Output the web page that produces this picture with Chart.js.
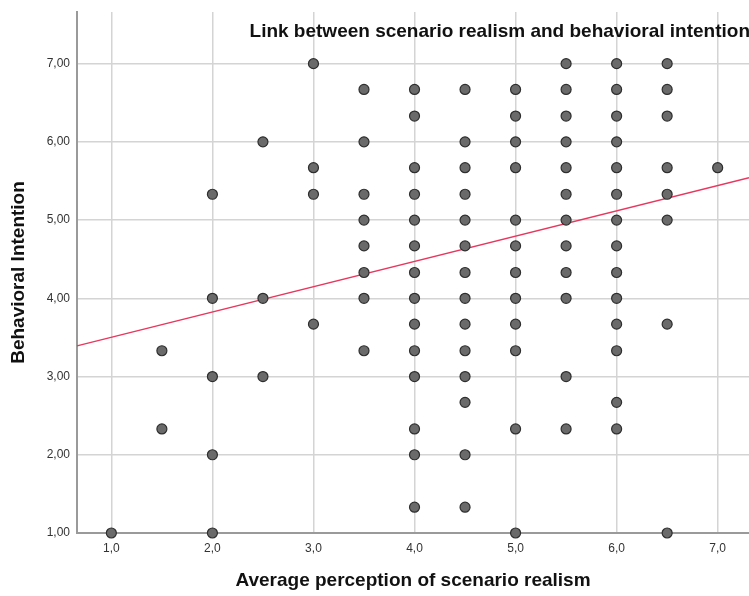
<!DOCTYPE html>
<html>
<head>
<meta charset="utf-8">
<script src="https://cdn.jsdelivr.net/npm/chart.js@4/dist/chart.umd.min.js"></script>
<style>
  html, body { margin: 0; padding: 0; background: #fff; }
  #wrap { width: 749px; height: 596px; }
</style>
</head>
<body>
<div id="wrap"><canvas id="scatter" width="749" height="596"></canvas></div>
<script>
// x values (average perception of scenario realism)
const realismLevels = [1.0, 1.5, 2.0, 2.5, 3.0, 3.5, 4.0, 4.5, 5.0, 5.5, 6.0, 6.5, 7.0];
// y values (behavioral intention) seen at each realism level
const intentionByLevel = [
  [1.00],
  [3.33, 2.33],
  [5.33, 4.00, 3.00, 2.00, 1.00],
  [6.00, 4.00, 3.00],
  [7.00, 5.67, 5.33, 3.67],
  [6.67, 6.00, 5.33, 5.00, 4.67, 4.33, 4.00, 3.33],
  [6.67, 6.33, 5.67, 5.33, 5.00, 4.67, 4.33, 4.00, 3.67, 3.33, 3.00, 2.33, 2.00, 1.33],
  [6.67, 6.00, 5.67, 5.33, 5.00, 4.67, 4.33, 4.00, 3.67, 3.33, 3.00, 2.67, 2.00, 1.33],
  [6.67, 6.33, 6.00, 5.67, 5.00, 4.67, 4.33, 4.00, 3.67, 3.33, 2.33, 1.00],
  [7.00, 6.67, 6.33, 6.00, 5.67, 5.33, 5.00, 4.67, 4.33, 4.00, 3.00, 2.33],
  [7.00, 6.67, 6.33, 6.00, 5.67, 5.33, 5.00, 4.67, 4.33, 4.00, 3.67, 3.33, 2.67, 2.33],
  [7.00, 6.67, 6.33, 5.67, 5.33, 5.00, 3.67, 1.00],
  [5.67]
];
// linear fit
const fitIntercept = 3.18;
const fitSlope = 0.323;

const xTicks = [1, 2, 3, 4, 5, 6, 7];
const yTicks = [1, 2, 3, 4, 5, 6, 7];
const xRange = [0.66, 7.31];
const yRange = [1.0, 7.66];

const titleText = 'Link between scenario realism and behavioral intention';

const points = [];
realismLevels.forEach(function (x, i) {
  intentionByLevel[i].forEach(function (y) { points.push({ x: x, y: y }); });
});

const fitLine = xRange.map(function (x) { return { x: x, y: fitIntercept + fitSlope * x }; });

const FONT = '"Liberation Sans", Arial, sans-serif';

const innerTitle = {
  id: 'innerTitle',
  afterDraw: function (chart) {
    const ctx = chart.ctx;
    ctx.save();
    ctx.font = 'bold 19px ' + FONT;
    ctx.fillStyle = '#111';
    ctx.textAlign = 'right';
    ctx.textBaseline = 'middle';
    ctx.fillText(titleText, chart.chartArea.right + 1, 32);
    ctx.restore();
  }
};

function fixTicks(list) {
  return function (scale) { scale.ticks = list.map(function (v) { return { value: v }; }); };
}

new Chart(document.getElementById('scatter'), {
  type: 'scatter',
  data: {
    datasets: [
      {
        data: points,
        backgroundColor: '#6a6a6a',
        borderColor: '#2e2e2e',
        borderWidth: 1.2,
        pointRadius: 5,
        pointHoverRadius: 5
      },
      {
        type: 'line',
        data: fitLine,
        borderColor: '#e8365d',
        borderWidth: 1.3,
        pointRadius: 0,
        fill: false
      }
    ]
  },
  plugins: [innerTitle],
  options: {
    responsive: false,
    animation: false,
    clip: false,
    layout: { autoPadding: false, padding: { top: 12, right: 0, left: 0, bottom: 0 } },
    plugins: {
      legend: { display: false },
      tooltip: { enabled: false }
    },
    scales: {
      x: {
        type: 'linear',
        min: xRange[0],
        max: xRange[1],
        afterBuildTicks: fixTicks(xTicks),
        afterFit: function (s) { s.height = 63; s.paddingRight = 0; s.paddingLeft = 0; },
        border: { color: '#9a9a9a', width: 2 },
        grid: { color: '#d4d4d4', lineWidth: 1.5, drawTicks: false },
        ticks: {
          padding: 8,
          color: '#333',
          font: { family: FONT, size: 12 },
          callback: function (v) { return v.toFixed(1).replace('.', ','); }
        },
        title: {
          display: true,
          text: 'Average perception of scenario realism',
          color: '#111',
          font: { family: FONT, size: 19, weight: 'bold' },
          padding: { top: 0, bottom: 4 }
        }
      },
      y: {
        type: 'linear',
        min: yRange[0],
        max: yRange[1],
        afterBuildTicks: fixTicks(yTicks),
        afterFit: function (s) { s.width = 77; s.paddingTop = 0; s.paddingBottom = 0; },
        border: { color: '#9a9a9a', width: 2 },
        grid: { color: '#d4d4d4', lineWidth: 1.5, drawTicks: false },
        ticks: {
          padding: 7,
          color: '#333',
          font: { family: FONT, size: 12 },
          callback: function (v) { return v.toFixed(2).replace('.', ','); }
        },
        title: {
          display: true,
          text: 'Behavioral Intention',
          color: '#111',
          font: { family: FONT, size: 19, weight: 'bold' },
          padding: { top: 7, bottom: 0 }
        }
      }
    }
  }
});
</script>
</body>
</html>
